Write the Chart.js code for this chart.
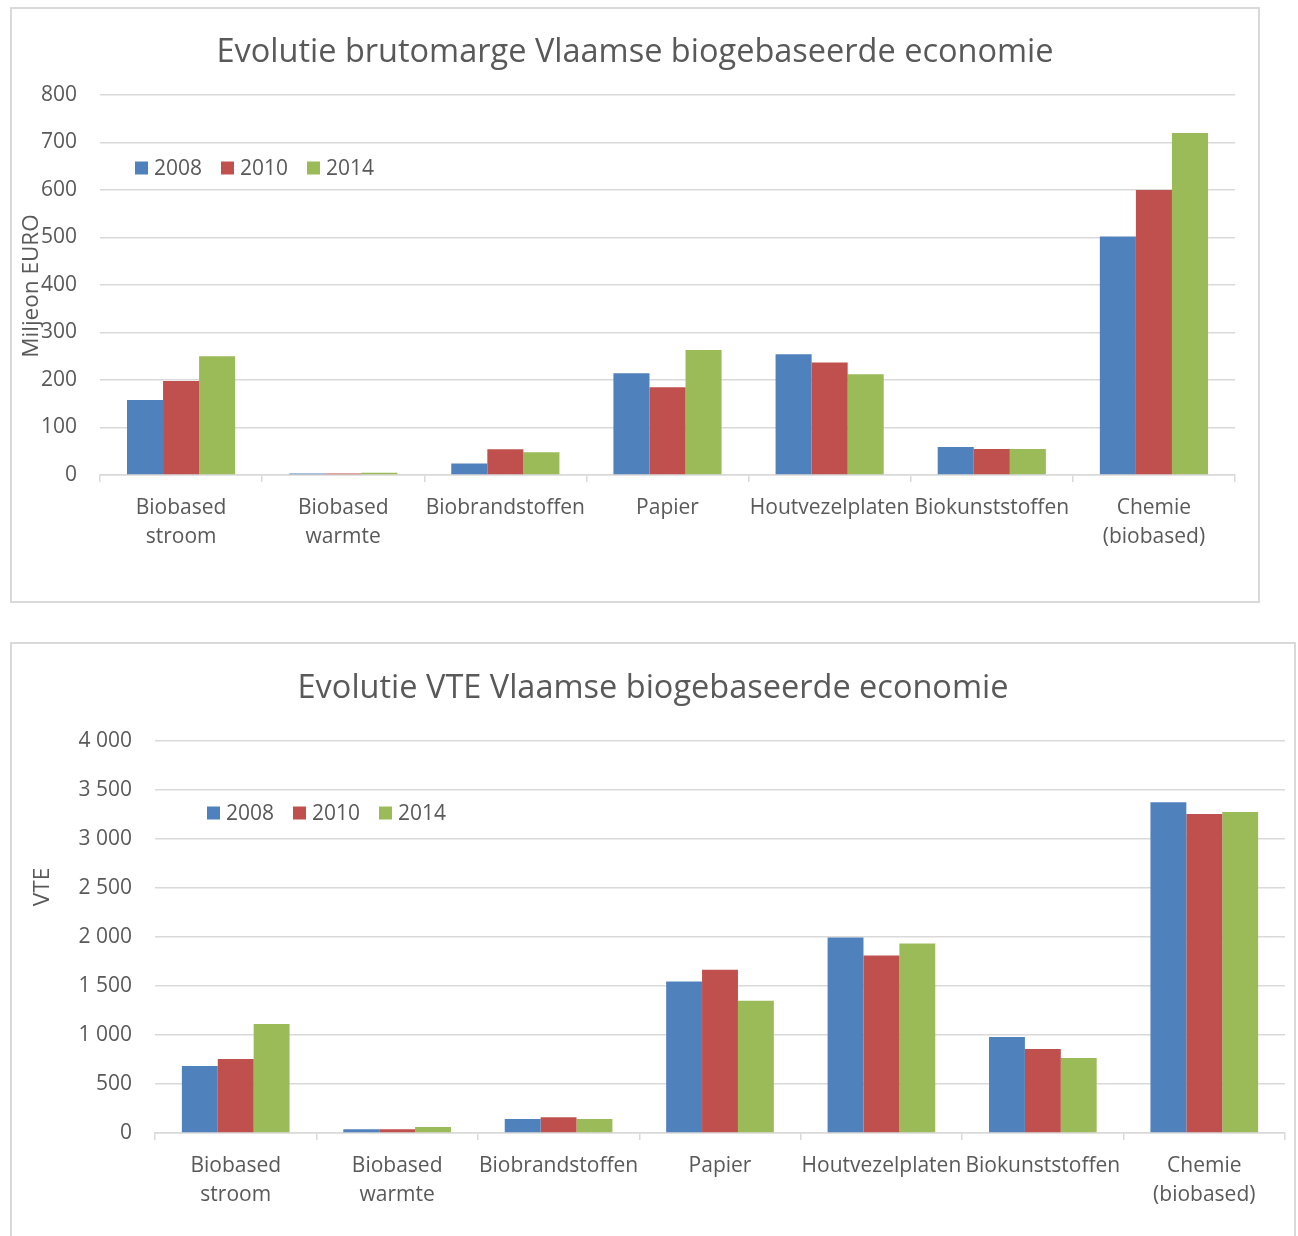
<!DOCTYPE html>
<html lang="nl">
<head>
  <meta charset="UTF-8">
  <title>Evolutie Vlaamse biogebaseerde economie</title>
  <script src="https://cdn.jsdelivr.net/npm/chart.js"></script>
  <style>
    * { margin: 0; padding: 0; box-sizing: border-box; }
    body { background: #fff; width: 1298px; height: 1236px; overflow: hidden; position: relative; font-family: 'Open Sans', sans-serif; }
    .box { position: absolute; border: 2px solid #d9d9d9; background: #fff; }
    #box1 { left: 10px; top: 7px; width: 1250px; height: 596px; }
    #box2 { left: 10px; top: 642px; width: 1286px; height: 600px; }
    .box canvas { display: block; }
  </style>
</head>
<body>
  <div class="box" id="box1"><canvas id="chartMarge"></canvas></div>
  <div class="box" id="box2"><canvas id="chartVte"></canvas></div>

  <script>
    // categories (shared by both charts)
    const categories = [
      ['Biobased', 'stroom'],
      ['Biobased', 'warmte'],
      'Biobrandstoffen',
      'Papier',
      'Houtvezelplaten',
      'Biokunststoffen',
      ['Chemie', '(biobased)']
    ];
    const years = ['2008', '2010', '2014'];
    const colors = ['#4f81bd', '#c0504d', '#9bbb59'];

    // brutomarge, miljoen euro
    const marge2008 = [158, 3, 24, 214, 254, 59, 502];
    const marge2010 = [198, 3, 54, 185, 237, 55, 600];
    const marge2014 = [250, 5, 48, 263, 212, 55, 720];
    const margeTicks = [0, 100, 200, 300, 400, 500, 600, 700, 800];

    // VTE
    const vte2008 = [683, 38, 143, 1545, 1995, 980, 3375];
    const vte2010 = [755, 38, 161, 1667, 1810, 858, 3255];
    const vte2014 = [1111, 61, 143, 1350, 1933, 765, 3275];
    const vteTicks = [0, 500, 1000, 1500, 2000, 2500, 3000, 3500, 4000];

    const textColor = '#595959';
    const gridColor = '#d9d9d9';
    const fontFamily = "'Open Sans', sans-serif";

    // legend + rotated axis label drawn inside the plot, like the Excel original
    const excelExtras = {
      id: 'excelExtras',
      afterDraw(chart, args, opts) {
        const c = chart.ctx;
        const area = chart.chartArea;
        c.save();
        c.font = '21px ' + fontFamily;
        c.textBaseline = 'middle';
        c.textAlign = 'left';
        let x = area.left + opts.legendX;
        const y = area.top + opts.legendY;
        chart.data.datasets.forEach(ds => {
          c.fillStyle = ds.backgroundColor;
          c.fillRect(x, y - 6.5, 13, 13);
          c.fillStyle = textColor;
          c.fillText(ds.label, x + 19, y + 1);
          x += 86;
        });
        // y axis title
        c.font = '22.5px ' + fontFamily;
        c.translate(opts.titleX, opts.titleY);
        c.rotate(-Math.PI / 2);
        c.textAlign = 'center';
        c.fillText(opts.yTitle, 0, 0);
        c.restore();
      }
    };

    function spaced(v) {
      return String(v).replace(/\B(?=(\d{3})+(?!\d))/g, ' ');
    }

    function makeChart(id, title, series, ticks, o) {
      return new Chart(document.getElementById(id), {
        type: 'bar',
        data: {
          labels: categories,
          datasets: series.map((data, i) => ({
            label: years[i],
            data: data,
            backgroundColor: colors[i],
            barPercentage: 1,
            categoryPercentage: 0.667
          }))
        },
        options: {
          responsive: true,
          maintainAspectRatio: false,
          animation: false,
          plugins: {
            legend: { display: false },
            tooltip: { enabled: false },
            title: {
              display: true,
              text: title,
              color: textColor,
              font: { family: fontFamily, size: 32.5, weight: 'normal', lineHeight: 1.2 },
              padding: { top: o.titleTop, bottom: o.titleBottom }
            },
            excelExtras: o.extras
          },
          scales: {
            x: {
              grid: { display: true, drawOnChartArea: false, drawTicks: true, tickLength: 7, color: gridColor, lineWidth: 1.5 },
              border: { color: gridColor, width: 1.5 },
              ticks: {
                color: textColor,
                font: { family: fontFamily, size: 21, lineHeight: 1.4 },
                maxRotation: 0,
                autoSkip: false,
                padding: 11
              },
              afterFit: s => { s.height = o.xHeight; }
            },
            y: {
              min: 0,
              max: ticks[ticks.length - 1],
              afterBuildTicks: s => { s.ticks = ticks.map(v => ({ value: v })); },
              grid: { color: gridColor, lineWidth: 1.5, drawTicks: false },
              border: { display: false },
              ticks: {
                color: textColor,
                font: { family: fontFamily, size: 21 },
                padding: 23,
                callback: v => spaced(v)
              },
              afterFit: s => { s.width = o.yWidth; }
            },
            // empty right-hand strip so the title stays centred on the whole box
            spacer: {
              type: 'linear',
              position: 'right',
              grid: { display: false },
              border: { display: false },
              ticks: { display: false },
              afterFit: s => { s.width = o.rightPad; }
            }
          }
        },
        plugins: [excelExtras]
      });
    }

    makeChart('chartMarge', 'Evolutie brutomarge Vlaamse biogebaseerde economie',
      [marge2008, marge2010, marge2014], margeTicks, {
        rightPad: 23, titleTop: 24.5, titleBottom: 22.5, xHeight: 126, yWidth: 88,
        extras: { legendX: 35, legendY: 73, yTitle: 'Miljeon EURO', titleX: 20, titleY: 277 }
      });

    makeChart('chartVte', 'Evolutie VTE Vlaamse biogebaseerde economie',
      [vte2008, vte2010, vte2014], vteTicks, {
        rightPad: 9, titleTop: 25.5, titleBottom: 32.5, xHeight: 107, yWidth: 143,
        extras: { legendX: 52, legendY: 72, yTitle: 'VTE', titleX: 31, titleY: 243 }
      });
  </script>
</body>
</html>
